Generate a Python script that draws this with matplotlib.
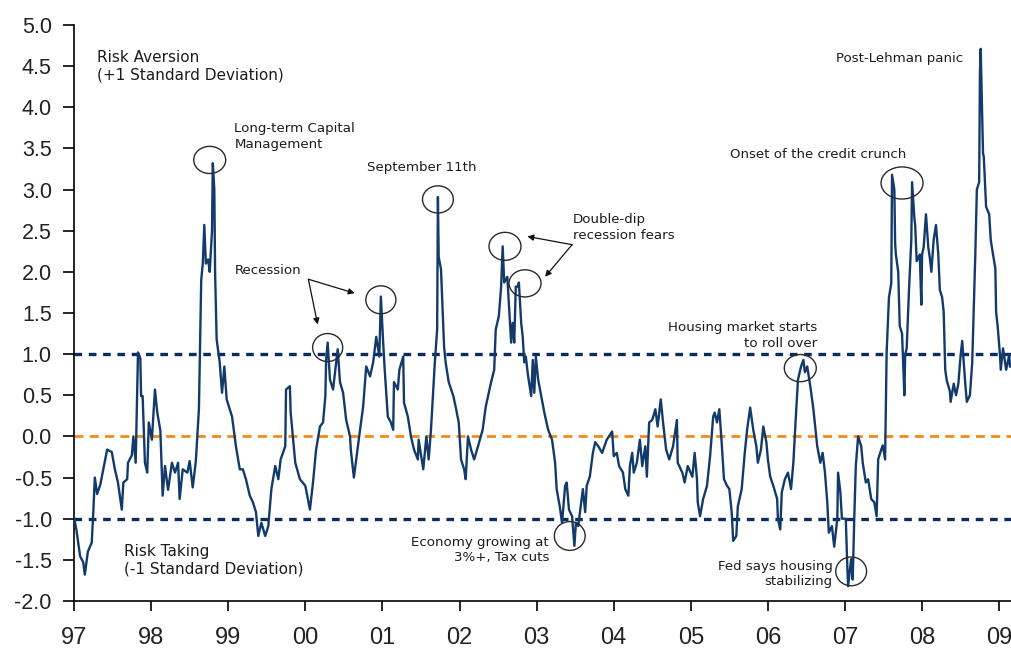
import matplotlib
matplotlib.use("Agg")
import matplotlib.pyplot as plt
from matplotlib.patches import Ellipse

# Risk appetite index, standard deviations from mean (fractional year, value)
dates = [
    1997.00, 1997.03, 1997.08, 1997.12, 1997.14, 1997.18, 1997.23, 1997.25, 1997.27, 1997.30,
    1997.34, 1997.38, 1997.43, 1997.49, 1997.53, 1997.57, 1997.62, 1997.64, 1997.69, 1997.70,
    1997.75, 1997.77, 1997.80, 1997.83, 1997.86, 1997.87, 1997.89, 1997.92, 1997.95, 1997.97,
    1998.01, 1998.05, 1998.08, 1998.12, 1998.15, 1998.18, 1998.22, 1998.27, 1998.31, 1998.35,
    1998.37, 1998.41, 1998.47, 1998.50, 1998.54, 1998.58, 1998.62, 1998.65, 1998.67, 1998.69,
    1998.71, 1998.74, 1998.76, 1998.79, 1998.80, 1998.82, 1998.83, 1998.85, 1998.89, 1998.92,
    1998.95, 1998.98, 1999.05, 1999.10, 1999.15, 1999.19, 1999.23, 1999.28, 1999.32, 1999.36,
    1999.39, 1999.43, 1999.48, 1999.52, 1999.56, 1999.61, 1999.65, 1999.68, 1999.74, 1999.75,
    1999.80, 1999.81, 1999.87, 1999.93, 2000.00, 2000.06, 2000.10, 2000.14, 2000.19, 2000.23,
    2000.26, 2000.27, 2000.29, 2000.32, 2000.36, 2000.40, 2000.42, 2000.45, 2000.49, 2000.53,
    2000.58, 2000.59, 2000.63, 2000.66, 2000.71, 2000.75, 2000.79, 2000.84, 2000.88, 2000.92,
    2000.96, 2000.98, 2001.01, 2001.03, 2001.07, 2001.11, 2001.14, 2001.15, 2001.20, 2001.22,
    2001.27, 2001.28, 2001.33, 2001.37, 2001.41, 2001.46, 2001.47, 2001.53, 2001.57, 2001.60,
    2001.63, 2001.66, 2001.68, 2001.71, 2001.72, 2001.73, 2001.76, 2001.79, 2001.80, 2001.82,
    2001.86, 2001.92, 2001.95, 2001.99, 2002.02, 2002.06, 2002.08, 2002.11, 2002.15, 2002.19,
    2002.24, 2002.30, 2002.34, 2002.41, 2002.45, 2002.47, 2002.51, 2002.54, 2002.56, 2002.58,
    2002.62, 2002.64, 2002.67, 2002.69, 2002.71, 2002.73, 2002.76, 2002.77, 2002.80, 2002.82,
    2002.84, 2002.86, 2002.89, 2002.93, 2002.95, 2002.97, 2002.99, 2003.02, 2003.06, 2003.10,
    2003.15, 2003.20, 2003.24, 2003.26, 2003.30, 2003.33, 2003.37, 2003.39, 2003.42, 2003.46,
    2003.49, 2003.51, 2003.54, 2003.59, 2003.60, 2003.63, 2003.65, 2003.69, 2003.73, 2003.76,
    2003.80, 2003.85, 2003.91, 2003.98, 2004.00, 2004.04, 2004.07, 2004.12, 2004.15, 2004.19,
    2004.21, 2004.24, 2004.26, 2004.30, 2004.34, 2004.37, 2004.41, 2004.43, 2004.46, 2004.50,
    2004.54, 2004.57, 2004.61, 2004.64, 2004.68, 2004.72, 2004.77, 2004.82, 2004.83, 2004.89,
    2004.92, 2004.96, 2005.02, 2005.05, 2005.08, 2005.09, 2005.12, 2005.16, 2005.21, 2005.25,
    2005.29, 2005.31, 2005.34, 2005.37, 2005.40, 2005.43, 2005.47, 2005.50, 2005.53, 2005.55,
    2005.59, 2005.61, 2005.66, 2005.70, 2005.73, 2005.77, 2005.81, 2005.85, 2005.87, 2005.91,
    2005.94, 2005.98, 2006.00, 2006.03, 2006.07, 2006.12, 2006.13, 2006.16, 2006.18, 2006.22,
    2006.26, 2006.30, 2006.33, 2006.36, 2006.39, 2006.43, 2006.46, 2006.48, 2006.51, 2006.55,
    2006.59, 2006.64, 2006.68, 2006.71, 2006.74, 2006.77, 2006.79, 2006.83, 2006.86, 2006.90,
    2006.91, 2006.94, 2006.96, 2007.01, 2007.03, 2007.04, 2007.08, 2007.10, 2007.12, 2007.14,
    2007.17, 2007.21, 2007.23, 2007.27, 2007.30, 2007.34, 2007.38, 2007.41, 2007.43, 2007.47,
    2007.49, 2007.52, 2007.54, 2007.57, 2007.60, 2007.61, 2007.64, 2007.65, 2007.66, 2007.69,
    2007.71, 2007.74, 2007.77, 2007.78, 2007.80, 2007.83, 2007.86, 2007.87, 2007.90, 2007.91,
    2007.93, 2007.97, 2007.99, 2008.00, 2008.02, 2008.05, 2008.08, 2008.10, 2008.12, 2008.15,
    2008.18, 2008.21, 2008.23, 2008.26, 2008.28, 2008.30, 2008.32, 2008.36, 2008.37, 2008.41,
    2008.44, 2008.47, 2008.50, 2008.52, 2008.54, 2008.56, 2008.58, 2008.62, 2008.65, 2008.69,
    2008.71, 2008.74, 2008.75, 2008.76, 2008.79, 2008.80, 2008.83, 2008.87, 2008.89, 2008.92,
    2008.95, 2008.96, 2008.98, 2009.01, 2009.02, 2009.05, 2009.07, 2009.09, 2009.13, 2009.14,
]
values = [
    -0.98, -1.13, -1.46, -1.53, -1.68, -1.40, -1.29, -0.92, -0.50, -0.70,
    -0.59, -0.40, -0.16, -0.19, -0.40, -0.56, -0.89, -0.56, -0.52, -0.32,
    -0.23, 0.00, -0.32, 1.02, 0.95, 0.49, 0.49, -0.32, -0.44, 0.17,
    -0.04, 0.57, 0.29, 0.07, -0.72, -0.36, -0.65, -0.32, -0.44, -0.32,
    -0.76, -0.40, -0.44, -0.30, -0.62, -0.30, 0.33, 1.90, 2.10, 2.57,
    2.10, 2.15, 2.00, 2.50, 3.32, 3.00, 1.99, 1.18, 0.90, 0.53,
    0.85, 0.45, 0.24, -0.12, -0.40, -0.40, -0.52, -0.72, -0.80, -0.92,
    -1.21, -1.05, -1.21, -1.09, -0.64, -0.36, -0.52, -0.28, -0.12, 0.57,
    0.61, 0.29, -0.32, -0.52, -0.60, -0.89, -0.56, -0.16, 0.12, 0.17,
    0.49, 0.93, 1.14, 0.69, 0.57, 0.90, 1.06, 0.66, 0.53, 0.20,
    0.00, -0.16, -0.50, -0.28, 0.08, 0.36, 0.85, 0.73, 0.90, 1.21,
    0.97, 1.70, 1.14, 0.81, 0.24, 0.17, 0.08, 0.66, 0.57, 0.81,
    0.97, 0.41, 0.24, 0.00, -0.16, -0.28, -0.04, -0.40, 0.00, -0.28,
    0.08, 0.57, 0.90, 1.30, 2.91, 2.18, 2.03, 1.30, 1.09, 0.90,
    0.66, 0.49, 0.36, 0.17, -0.28, -0.40, -0.52, 0.00, -0.16, -0.28,
    -0.12, 0.08, 0.36, 0.66, 0.81, 1.30, 1.46, 1.82, 2.31, 1.87,
    1.94, 1.62, 1.14, 1.38, 1.14, 1.82, 1.82, 1.87, 1.38, 1.21,
    0.90, 0.97, 0.73, 0.49, 0.93, 0.53, 0.97, 0.69, 0.49, 0.29,
    0.08, -0.04, -0.32, -0.64, -0.85, -1.05, -0.60, -0.56, -0.89, -0.97,
    -1.33, -1.05, -1.09, -0.72, -0.64, -0.92, -0.60, -0.49, -0.20, -0.07,
    -0.12, -0.20, -0.04, 0.06, -0.24, -0.20, -0.36, -0.44, -0.64, -0.72,
    -0.36, -0.20, -0.44, -0.32, -0.04, -0.36, -0.12, -0.49, 0.17, 0.20,
    0.33, 0.12, 0.45, 0.17, -0.16, -0.28, -0.12, 0.20, -0.32, -0.44,
    -0.56, -0.36, -0.49, -0.20, -0.52, -0.80, -0.97, -0.76, -0.60, -0.24,
    0.24, 0.29, 0.17, 0.33, -0.07, -0.52, -0.60, -0.64, -0.92, -1.27,
    -1.21, -0.85, -0.64, -0.20, 0.08, 0.35, 0.08, -0.12, -0.32, -0.16,
    0.12, -0.07, -0.28, -0.49, -0.60, -0.76, -1.00, -1.13, -0.68, -0.52,
    -0.44, -0.64, -0.32, 0.20, 0.69, 0.85, 0.93, 0.78, 0.85, 0.61,
    0.33, -0.12, -0.32, -0.20, -0.44, -0.80, -1.17, -1.09, -1.34, -1.00,
    -0.44, -0.68, -1.00, -1.00, -1.58, -1.82, -1.49, -1.74, -1.00, -0.36,
    0.00, -0.12, -0.32, -0.56, -0.52, -0.76, -0.80, -0.97, -0.28, -0.16,
    -0.11, -0.28, 1.02, 1.69, 1.86, 3.18, 3.00, 2.35, 2.21, 2.00,
    1.34, 1.25, 0.50, 0.99, 1.07, 1.78, 2.39, 3.09, 2.65, 2.57,
    2.13, 2.21, 1.60, 2.21, 2.30, 2.70, 2.30, 2.17, 2.00, 2.39,
    2.57, 2.21, 1.78, 1.69, 1.51, 0.81, 0.68, 0.55, 0.42, 0.64,
    0.50, 0.64, 0.99, 1.16, 0.90, 0.64, 0.42, 0.50, 0.90, 2.21,
    3.00, 3.09, 4.41, 4.71, 3.44, 3.40, 2.79, 2.70, 2.39, 2.21,
    2.04, 1.51, 1.34, 0.99, 0.81, 1.07, 0.94, 0.81, 0.99, 0.85,
]

year_ticks = [1997, 1998, 1999, 2000, 2001, 2002, 2003, 2004, 2005, 2006, 2007, 2008, 2009]
year_labels = ["97", "98", "99", "00", "01", "02", "03", "04", "05", "06", "07", "08", "09"]
value_ticks = [-2.0, -1.5, -1.0, -0.5, 0.0, 0.5, 1.0, 1.5, 2.0, 2.5, 3.0, 3.5, 4.0, 4.5, 5.0]

band_levels = [1.0, -1.0]
mean_level = 0.0

LINE = "#123a6b"
NAVY = "#0c2d5c"
ORANGE = "#f28a1e"
TXT = "#1c1c1c"
TICK_FONT = "Liberation Sans"

plt.rcParams["lines.scale_dashes"] = False

fig = plt.figure(figsize=(10.11, 6.49), dpi=100)
ax = fig.add_axes([0.0732, 0.0740, 0.9268, 0.8875])

for lvl in band_levels:
    ax.axhline(lvl, color=NAVY, lw=2.4, linestyle=(0, (5.5, 4.8)), zorder=1)
ax.axhline(mean_level, color=ORANGE, lw=2.0, linestyle=(0, (6.5, 4.5)), zorder=1)

ax.plot(dates, values, color=LINE, lw=1.7, zorder=3)

ax.set_xlim(1997.0, 2009.153)
ax.set_ylim(-2.0, 5.0)
ax.set_xticks(year_ticks)
ax.set_xticklabels(year_labels, fontfamily=TICK_FONT, fontsize=17, color="#222222")
ax.set_yticks(value_ticks)
ax.set_yticklabels([f"{v:.1f}" for v in value_ticks], fontfamily=TICK_FONT,
                   fontsize=15.5, color="#222222")

for s in ("top", "right"):
    ax.spines[s].set_visible(False)
for s in ("left", "bottom"):
    ax.spines[s].set_linewidth(1.2)
    ax.spines[s].set_color("black")

ax.tick_params(axis="y", direction="out", length=8, width=1.2, pad=8)
ax.tick_params(axis="x", direction="out", length=7, width=1.2, pad=12)

# Band captions
ax.text(1997.30, 4.70, "Risk Aversion\n(+1 Standard Deviation)", fontsize=11,
        color=TXT, va="top", ha="left", linespacing=1.2)
ax.text(1997.65, -1.31, "Risk Taking\n(-1 Standard Deviation)", fontsize=11,
        color=TXT, va="top", ha="left", linespacing=1.2)

# Event labels
note = dict(fontsize=9.6, color=TXT, va="top", linespacing=1.25)
ax.text(1999.08, 3.82, "Long-term Capital\nManagement", ha="left", **note)
ax.text(1999.09, 2.10, "Recession", ha="left", **note)
ax.text(2000.80, 3.35, "September 11th", ha="left", **note)
ax.text(2003.47, 2.71, "Double-dip\nrecession fears", ha="left", **note)
ax.text(2003.16, -1.21, "Economy growing at\n3%+, Tax cuts", ha="right", multialignment="right", **note)
ax.text(2006.64, 1.40, "Housing market starts\nto roll over", ha="right", multialignment="right", **note)
ax.text(2006.84, -1.50, "Fed says housing\nstabilizing", ha="right", multialignment="right", **note)
ax.text(2005.51, 3.50, "Onset of the credit crunch", ha="left", **note)
ax.text(2006.88, 4.67, "Post-Lehman panic", ha="left", **note)

# Circles around highlighted episodes: (centre year, centre value, width, height)
circles = [
    (1998.76, 3.36, 0.415, 0.33),
    (2000.29, 1.08, 0.39, 0.34),
    (2000.98, 1.66, 0.39, 0.34),
    (2001.72, 2.88, 0.40, 0.33),
    (2002.59, 2.31, 0.415, 0.34),
    (2002.85, 1.86, 0.415, 0.33),
    (2003.43, -1.21, 0.40, 0.35),
    (2006.42, 0.83, 0.415, 0.33),
    (2007.08, -1.64, 0.40, 0.35),
    (2007.74, 3.08, 0.545, 0.39),
]
for cx, cy, w, h in circles:
    ax.add_patch(Ellipse((cx, cy), w, h, fill=False, edgecolor="#2a2a2a", lw=1.0, zorder=4))

arrow = dict(arrowstyle="-|>", color="#111111", lw=0.9, mutation_scale=9, shrinkA=0, shrinkB=0)
ax.annotate("", xy=(2000.16, 1.36), xytext=(2000.04, 1.91), arrowprops=arrow)
ax.annotate("", xy=(2000.64, 1.74), xytext=(2000.04, 1.91), arrowprops=arrow)
ax.annotate("", xy=(2002.88, 2.43), xytext=(2003.46, 2.33), arrowprops=arrow)
ax.annotate("", xy=(2003.11, 1.94), xytext=(2003.46, 2.33), arrowprops=arrow)

fig.savefig("out.png", dpi=100)
